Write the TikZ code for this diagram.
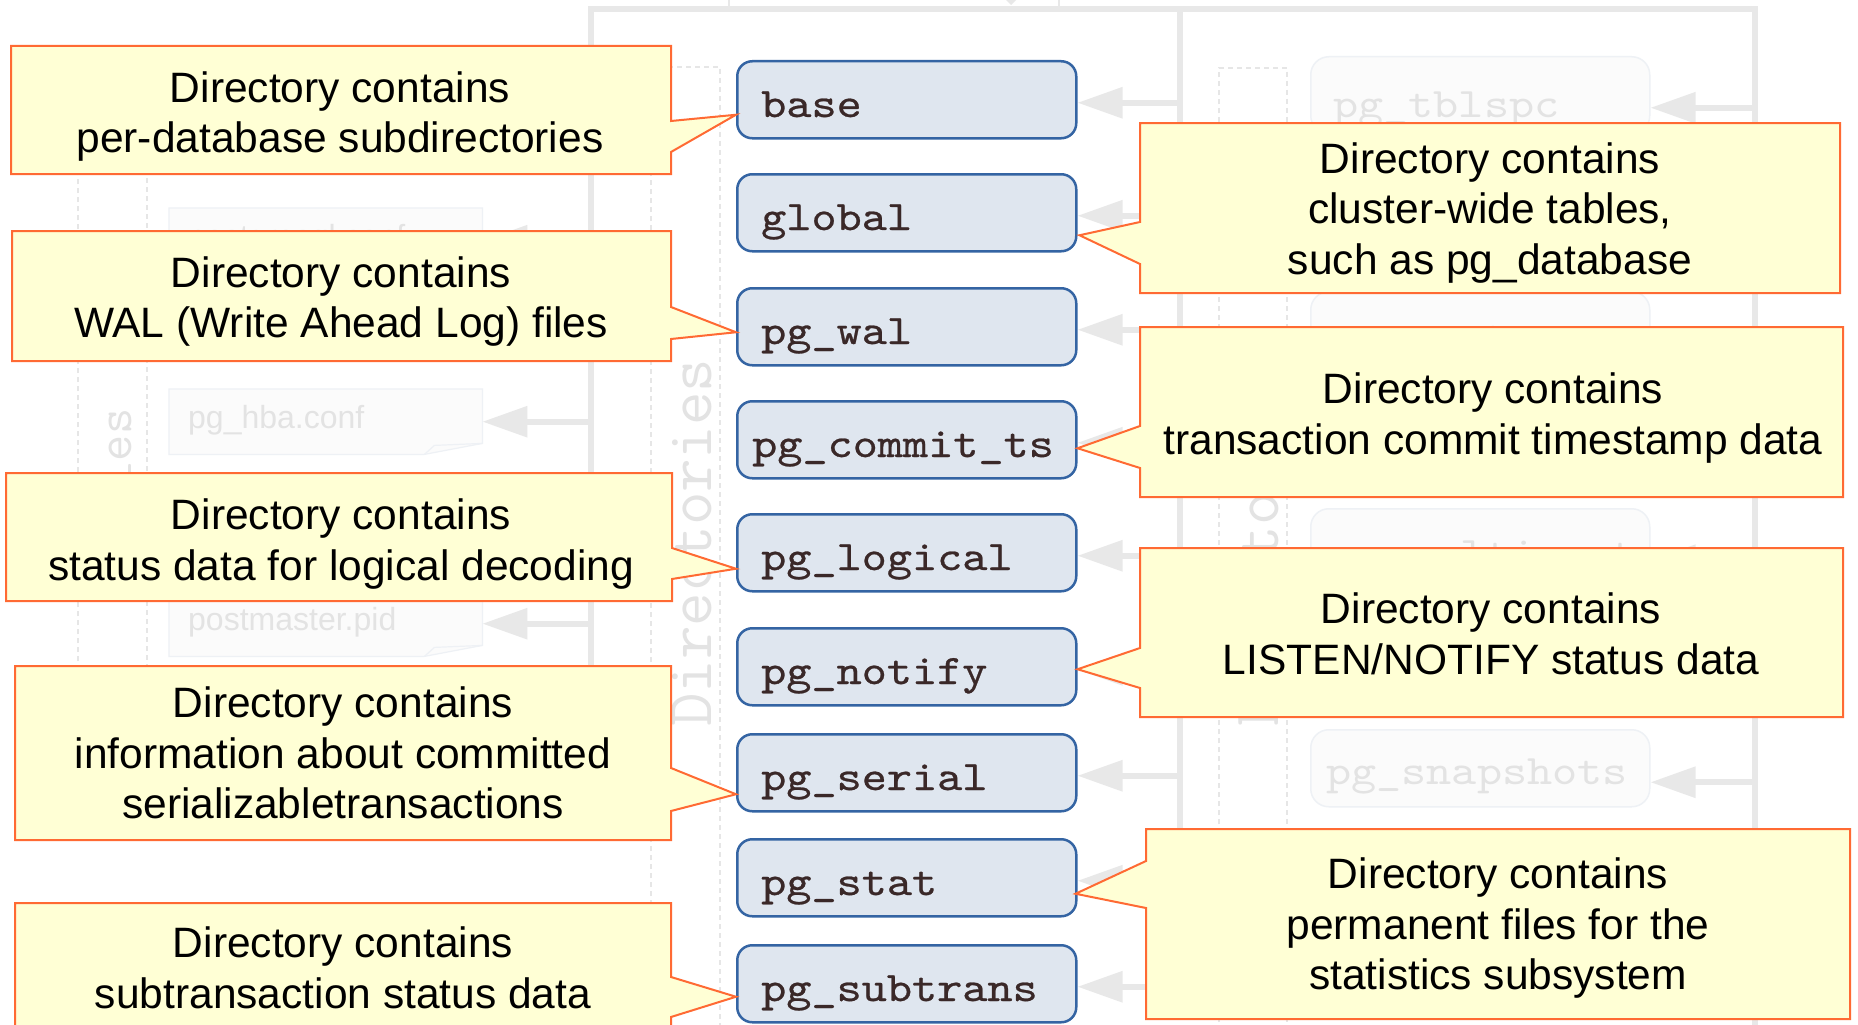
\documentclass[tikz,border=0pt]{standalone}
\usepackage{fontspec}
\setmainfont{Liberation Sans}
\usetikzlibrary{arrows.meta,calc}

\definecolor{calloutfill}{HTML}{FFFFD5}
\definecolor{calloutline}{HTML}{FF6A33}
\definecolor{boxfill}{HTML}{DFE6EF}
\definecolor{boxline}{HTML}{3464A3}
\definecolor{boxtext}{HTML}{3A2828}
\definecolor{ghostline}{HTML}{E8E8E8}
\definecolor{ghosttext}{HTML}{E3E3E3}
\definecolor{ghostfill}{HTML}{FBFBFB}
\definecolor{ghostedge}{HTML}{EEF1F5}
\definecolor{lanedash}{HTML}{E6E6E6}

% slab-serif typewriter face, widened (and slightly heavier for the directory names)
\newfontfamily\dirmono{lmmono10-regular.otf}[FakeStretch=1.14,FakeBold=0.6]
\newfontfamily\ghostmonofont{lmmono10-regular.otf}[FakeStretch=1.14]

\tikzset{
  dirbox/.style={draw=boxline, fill=boxfill, line width=2.5pt, rounded corners=15pt,
    minimum width=339pt, minimum height=77pt, inner sep=0pt, anchor=north west},
  dirlabel/.style={text=boxtext, font=\dirmono\fontsize{42}{42}\selectfont,
    inner sep=0pt, anchor=base west},
  callout/.style={draw=calloutline, fill=calloutfill, line width=2pt, line join=miter},
  calltext/.style={text=black, font=\fontsize{42.5}{50.5}\selectfont, align=center,
    inner sep=0pt, anchor=north},
  railline/.style={draw=ghostline, line width=6pt, line join=miter},
  ghostarrow/.style={draw=ghostline, line width=6pt, -{Triangle[length=45pt,width=30pt]}},
  lane/.style={draw=lanedash, line width=1.2pt, dash pattern=on 5pt off 4pt},
  ghostbox/.style={draw=ghostedge, fill=ghostfill, line width=1.5pt, rounded corners=18pt,
    minimum width=339pt, minimum height=77pt, inner sep=0pt, anchor=north west},
  ghostmono/.style={text=ghosttext, font=\ghostmonofont\fontsize{42}{42}\selectfont,
    inner sep=0pt, anchor=base west},
  filenode/.style={draw=none, minimum width=313pt, minimum height=65pt, inner sep=0pt, anchor=north west},
  ghostnote/.style={draw=ghostedge, fill=ghostfill, line width=1.2pt},
  ghostsans/.style={text=ghosttext, font=\fontsize{32}{32}\selectfont, inner sep=0pt, anchor=base west},
  lanetext/.style={text=ghosttext, inner sep=0pt, rotate=90, anchor=base west},
}

\begin{document}
\begin{tikzpicture}[x=1pt,y=-1pt]
\useasboundingbox (0,0) rectangle (1858,1025);
\clip (0,0) rectangle (1858,1025);
\fill[white] (0,0) rectangle (1858,1025);

% ---------- background: lanes ----------
\draw[lane] (78,760) -- (78,67) -- (147,67) -- (147,760);
\draw[lane] (651,1040) -- (651,67) -- (720,67) -- (720,1040);
\draw[lane] (1219,1040) -- (1219,68) -- (1287,68) -- (1287,1040);
\node[lanetext, font=\ttfamily\fontsize{51}{51}\selectfont] (fileslane) at (131,540) {Files};
\node[lanetext, font=\ttfamily\fontsize{65}{65}\selectfont] (dirlaneL) at (711,727) {Directories};
\node[lanetext, font=\ttfamily\fontsize{65}{65}\selectfont] (dirlaneR) at (1278,727) {Directories};

% ---------- background: rails ----------
\draw[ghostline, line width=1.5pt] (729,0) -- (729,9);
\draw[ghostline, line width=1.5pt] (1059,0) -- (1059,9);
\fill[ghostline] (1006,0) -- (1016,0) -- (1011,5) -- cycle;
\draw[railline] (591,760) -- (591,9) -- (1755,9) -- (1755,1040);
\draw[railline] (1180,9) -- (1180,990);

% ---------- background: files ----------
\node[filenode] (pgconf) at (169,208) {};
\node[filenode] (hba) at (169,389) {};
\node[filenode] (pidfile) at (169,591) {};
\foreach \f in {pgconf,hba,pidfile}{
  \draw[ghostnote] (\f.north west) -- (\f.north east) -- ([yshift=11pt]\f.south east)
    -- ([xshift=-58pt]\f.south east) -- (\f.south west) -- cycle;
  \draw[ghostnote, fill=none] ([xshift=-58pt]\f.south east) -- ([xshift=-48pt,yshift=9pt]\f.south east)
    -- ([yshift=11pt]\f.south east);
  \draw[ghostarrow] ($(\f.east)+(109,0)$) -- (\f.east);
}
\node[ghostsans] (pgconf-l) at ($(pgconf.north west)+(19,39)$) {postgresql.conf};
\node[ghostsans] (hba-l) at ($(hba.north west)+(19,39)$) {pg\_hba.conf};
\node[ghostsans] (pidfile-l) at ($(pidfile.north west)+(19,39)$) {postmaster.pid};

% ---------- background: right-hand directories ----------
\node[ghostbox] (tblspc) at (1310,56) {};
\node[ghostbox] (xact) at (1310,291) {};
\node[ghostbox] (multix) at (1310,508) {};
\node[ghostbox] (snaps) at (1310,729) {};
\node[ghostmono] (tblspc-l) at ($(tblspc.north west)+(23,61)$) {pg\_tblspc};
\node[ghostmono] (xact-l) at ($(xact.north west)+(23,58)$) {pg\_xact};
\node[ghostmono] (multix-l) at ($(multix.north west)+(25,58)$) {pg\_multixact};
\node[ghostmono] (snaps-l) at ($(snaps.north west)+(16,55)$) {pg\_snapshots};
\draw[ghostarrow] ($(tblspc.east)+(106,12.5)$) -- ($(tblspc.east)+(0,12.5)$);
\draw[ghostarrow] ($(xact.east)+(106,13)$) -- ($(xact.east)+(0,13)$);
\draw[ghostarrow] ($(multix.east)+(106,13)$) -- ($(multix.east)+(0,13)$);
\draw[ghostarrow] ($(snaps.east)+(106,14)$) -- ($(snaps.east)+(0,14)$);

% ---------- directory boxes ----------
\node[dirbox] (base) at (736,60) {};
\node[dirbox] (global) at (736,173) {};
\node[dirbox] (pgwal) at (736,287) {};
\node[dirbox] (commit) at (736,400) {};
\node[dirbox] (logical) at (736,513) {};
\node[dirbox] (notify) at (736,627) {};
\node[dirbox] (serial) at (736,733) {};
\node[dirbox] (stat) at (736,838) {};
\node[dirbox] (subtrans) at (736,944) {};

\foreach \n in {base,global,pgwal,commit,logical,notify,serial,stat,subtrans}
  \draw[ghostarrow] ($(\n.east)+(105,3)$) -- ($(\n.east)+(0,3)$);

\node[dirlabel] (base-l) at ($(base.south west)+(25,-22.5)$) {base};
\node[dirlabel] (global-l) at ($(global.south west)+(25,-22.5)$) {global};
\node[dirlabel] (pgwal-l) at ($(pgwal.south west)+(25,-22.5)$) {pg\_wal};
\node[dirlabel] (commit-l) at ($(commit.south west)+(16,-22.5)$) {pg\_commit\_ts};
\node[dirlabel] (logical-l) at ($(logical.south west)+(25,-22.5)$) {pg\_logical};
\node[dirlabel] (notify-l) at ($(notify.south west)+(25,-22.5)$) {pg\_notify};
\node[dirlabel] (serial-l) at ($(serial.south west)+(25,-22.5)$) {pg\_serial};
\node[dirlabel] (stat-l) at ($(stat.south west)+(25,-22.5)$) {pg\_stat};
\node[dirlabel] (subtrans-l) at ($(subtrans.south west)+(25,-22.5)$) {pg\_subtrans};

% ---------- callouts, left column ----------
\draw[callout] (11,46) -- (671,46) -- (671,121) -- ($(base.west)+(0,15)$) -- (671,152)
  -- (671,174) -- (11,174) -- cycle;
\node[calltext] (c1) at (340,71.5) {Directory contains\\per-database subdirectories};

\draw[callout] (12,231) -- (671,231) -- (671,307) -- ($(pgwal.west)+(0,5.5)$) -- (671,339)
  -- (671,361) -- (12,361) -- cycle;
\node[calltext] (c3) at (341,256.5) {Directory contains\\WAL (Write Ahead Log) files};

\draw[callout] (6,473) -- (672,473) -- (672,548) -- ($(logical.west)+(0,16)$) -- (672,579)
  -- (672,601) -- (6,601) -- cycle;
\node[calltext] (c5) at (341,498.5) {Directory contains\\status data for logical decoding};

\draw[callout] (15,666) -- (671,666) -- (671,768) -- ($(serial.west)+(0,21.5)$) -- (671,811)
  -- (671,840) -- (15,840) -- cycle;
\node[calltext] (c6) at (343,686.5) {Directory contains\\information about committed\\serializabletransactions};

\draw[callout] (15,903) -- (671,903) -- (671,977) -- ($(subtrans.west)+(0,13)$) -- (671,1017)
  -- (671,1040) -- (15,1040) -- cycle;
\node[calltext] (c7) at (343,926.5) {Directory contains\\subtransaction status data};

% ---------- callouts, right column ----------
\draw[callout] (1140,123) -- (1840,123) -- (1840,293) -- (1140,293) -- (1140,264)
  -- ($(global.east)+(2,22.5)$) -- (1140,222) -- cycle;
\node[calltext] (c2) at (1490,142.5) {Directory contains\\cluster-wide tables,\\such as pg\_database};

\draw[callout] (1140,327) -- (1843,327) -- (1843,497) -- (1140,497) -- (1140,468)
  -- ($(commit.east)+(0,8.5)$) -- (1140,426) -- cycle;
\node[calltext] (c4) at (1493,372.5) {Directory contains\\transaction commit timestamp data};

\draw[callout] (1140,548) -- (1843,548) -- (1843,717) -- (1140,717) -- (1140,688)
  -- ($(notify.east)+(0,2.5)$) -- (1140,648) -- cycle;
\node[calltext] (c8) at (1491,592.5) {Directory contains\\LISTEN/NOTIFY status data};

\draw[callout] (1146,829) -- (1850,829) -- (1850,1019) -- (1146,1019) -- (1146,908)
  -- ($(stat.east)+(-2,16)$) -- (1146,861) -- cycle;
\node[calltext] (c9) at (1498,857.5) {Directory contains\\permanent files for the\\statistics subsystem};

\end{tikzpicture}
\end{document}
